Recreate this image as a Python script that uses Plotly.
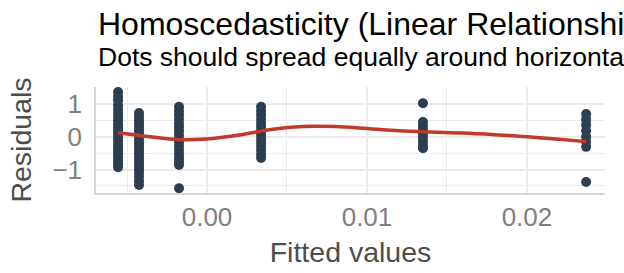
import plotly.graph_objects as go

# Fitted values (one per column of points) and residuals per column
fitted_levels = [-0.00556, -0.00425, -0.00175, 0.00338, 0.0135, 0.0237]
residuals_by_level = [
    [1.36, 1.22, 1.1, 0.95, 0.82, 0.7, 0.6, 0.5, 0.38, 0.28, 0.18, 0.08, -0.02, -0.12,
     -0.22, -0.32, -0.42, -0.52, -0.62, -0.72, -0.82, -0.93],
    [0.72, 0.6, 0.5, 0.4, 0.3, 0.2, 0.1, 0.0, -0.1, -0.2, -0.3, -0.4, -0.5, -0.6,
     -0.7, -0.8, -0.9, -1.0, -1.1, -1.22, -1.35, -1.47],
    [0.91, 0.78, 0.66, 0.54, 0.42, 0.3, 0.18, 0.06, -0.06, -0.18, -0.3, -0.42,
     -0.54, -0.66, -0.76, -0.86, -1.57],
    [0.91, 0.78, 0.66, 0.54, 0.42, 0.3, 0.18, 0.06, -0.06, -0.18, -0.3, -0.42,
     -0.54, -0.65],
    [1.02, 0.45, 0.33, 0.21, 0.09, -0.03, -0.15, -0.27, -0.35],
    [0.69, 0.52, 0.36, 0.18, 0.0, -0.15, -0.31, -1.38],
]

# Smoothed (loess) curve
smooth_x = [-0.00556, -0.00425, -0.00175, 0.0, 0.002, 0.004, 0.006, 0.008, 0.010,
            0.012, 0.014, 0.016, 0.018, 0.020, 0.022, 0.0237]
smooth_y = [0.12, 0.04, -0.09, -0.07, 0.05, 0.22, 0.31, 0.31, 0.25,
            0.18, 0.14, 0.11, 0.06, 0.0, -0.08, -0.15]

x_tick_vals = [0.0, 0.01, 0.02]
x_tick_text = ["0.00", "0.01", "0.02"]
y_tick_vals = [-1, 0, 1]

title_text = "Homoscedasticity (Linear Relationship)"
subtitle_text = "Dots should spread equally around horizontal line"
x_title = "Fitted values"
y_title = "Residuals"

px, py = [], []
for fv, res in zip(fitted_levels, residuals_by_level):
    for r in res:
        px.append(fv)
        py.append(r)

FONT = "Liberation Sans, Arial, sans-serif"

fig = go.Figure()
fig.add_trace(go.Scatter(x=px, y=py, mode="markers",
                         marker=dict(color="#2c3e50", size=10, line=dict(width=0)),
                         showlegend=False, hoverinfo="skip"))
fig.add_trace(go.Scatter(x=smooth_x, y=smooth_y, mode="lines",
                         line=dict(color="#c0392b", width=3.5, shape="spline"),
                         showlegend=False, hoverinfo="skip"))

fig.update_layout(
    width=624, height=273,
    margin=dict(l=96, r=19, t=87, b=80, autoexpand=False),
    paper_bgcolor="white", plot_bgcolor="white",
    font=dict(family=FONT),
    annotations=[
        dict(text=title_text, xref="paper", yref="paper", x=0, y=1.59,
             xanchor="left", yanchor="middle", showarrow=False,
             font=dict(size=32, color="#000000", family=FONT)),
        dict(text=subtitle_text, xref="paper", yref="paper", x=0, y=1.28,
             xanchor="left", yanchor="middle", showarrow=False,
             font=dict(size=26.5, color="#000000", family=FONT)),
    ],
)
fig.update_xaxes(
    automargin=False,
    range=[-0.00694, 0.02488],
    tickvals=x_tick_vals, ticktext=x_tick_text,
    showgrid=True, gridcolor="#ebebeb", gridwidth=1.6,
    minor=dict(dtick=0.005, showgrid=True, gridcolor="#ebebeb", gridwidth=0.8, ticks=""),
    zeroline=False, showline=True, linecolor="#d6d6d6", linewidth=1.5,
    ticks="", tickfont=dict(size=26, color="#808080"),
    title=dict(text=x_title, font=dict(size=28.5, color="#4d4d4d"), standoff=11),
)
fig.update_yaxes(
    automargin=False,
    range=[-1.716, 1.515],
    tickvals=y_tick_vals,
    showgrid=True, gridcolor="#ebebeb", gridwidth=1.6,
    minor=dict(dtick=0.5, showgrid=True, gridcolor="#ebebeb", gridwidth=0.8, ticks=""),
    zeroline=False, showline=True, linecolor="#d6d6d6", linewidth=1.5,
    ticks="", ticklabelstandoff=7, tickfont=dict(size=26, color="#808080"),
    title=dict(text=y_title, font=dict(size=28.5, color="#4d4d4d"), standoff=12),
)

fig.write_html("out.html", config={"displayModeBar": False},
               post_script="document.body.style.margin='0px';")
